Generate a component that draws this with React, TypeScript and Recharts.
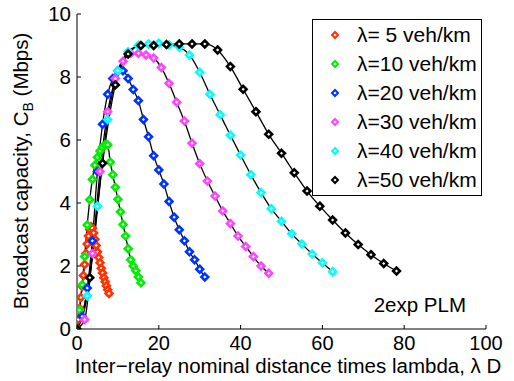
import { ComposedChart, Line, Scatter, XAxis, YAxis } from "recharts";

// relay spacing D (km); the x axis is lambda * D
const distanceKm = [
  0, 0.0625, 0.125, 0.1875, 0.25, 0.3125, 0.375, 0.4375, 0.5, 0.5625, 0.625,
  0.6875, 0.75, 0.8125, 0.875, 0.9375, 1.0, 1.0625, 1.125, 1.1875, 1.25,
  1.3125, 1.375, 1.4375, 1.5, 1.5625,
];

const densities = [5, 10, 20, 30, 40, 50];
const legendLabels = [
  "λ= 5 veh/km",
  "λ=10 veh/km",
  "λ=20 veh/km",
  "λ=30 veh/km",
  "λ=40 veh/km",
  "λ=50 veh/km",
];
const colors = ["#ff3300", "#00ee00", "#0033ff", "#ff44ff", "#00ffff", "#000000"];

// broadcast capacity C_B (Mbps)
const cap5 = [
  0, 0.3, 0.65, 1.0, 1.35, 1.7, 2.05, 2.4, 2.7, 2.95, 3.15, 3.25, 3.2, 3.05,
  2.85, 2.65, 2.45, 2.27, 2.1, 1.93, 1.78, 1.63, 1.5, 1.37, 1.25, 1.13,
];
const cap10 = [
  0, 0.6, 1.4, 2.3, 3.3, 4.1, 4.75, 5.2, 5.45, 5.65, 5.78, 5.85, 5.85, 5.3,
  4.9, 4.5, 4.12, 3.72, 3.32, 2.95, 2.55, 2.2, 2.0, 1.85, 1.65, 1.47,
];
const cap20 = [
  0, 0.4, 1.3, 2.8, 5.0, 6.5, 7.45, 7.95, 8.2, 8.2, 7.95, 7.6, 7.25, 6.65,
  6.1, 5.5, 5.05, 4.6, 4.05, 3.55, 3.15, 2.8, 2.45, 2.2, 1.9, 1.65,
];
const cap30 = [
  0, 0.3, 2.4, 5.0, 6.9, 7.95, 8.5, 8.75, 8.75, 8.7, 8.6, 8.3, 7.8, 7.2, 6.6,
  5.9, 5.25, 4.7, 4.22, 3.75, 3.35, 2.95, 2.62, 2.3, 2.0, 1.77,
];
const cap40 = [
  0, 1.05, 3.9, 6.65, 8.2, 8.8, 9.0, 9.05, 9.07, 9.02, 8.95, 8.7, 8.15, 7.45,
  6.8, 6.15, 5.52, 4.9, 4.33, 3.82, 3.42, 3.02, 2.7, 2.38, 2.1, 1.82,
];
const cap50 = [
  0, 1.63, 5.26, 7.75, 8.73, 9.0, 9.0, 9.03, 9.05, 9.05, 9.05, 8.86, 8.33,
  7.61, 6.9, 6.18, 5.58, 4.96, 4.38, 3.9, 3.46, 3.05, 2.68, 2.36, 2.08, 1.84,
];
const capacities = [cap5, cap10, cap20, cap30, cap40, cap50];

const xTicks = [0, 20, 40, 60, 80, 100];
const yTicks = [0, 2, 4, 6, 8, 10];

const series = densities.map((lam, i) => ({
  name: legendLabels[i],
  color: colors[i],
  data: distanceKm.map((d, j) => ({ x: lam * d, y: capacities[i][j] })),
}));

const FONT = "'Liberation Sans', Arial, Helvetica, sans-serif";
const TICK = 4;

const diamond = (color: string) => (props: any) => {
  const { cx, cy } = props;
  const r = 3.4;
  return (
    <path
      d={`M${cx},${cy - r}L${cx + r},${cy}L${cx},${cy + r}L${cx - r},${cy}Z`}
      fill="#ffffff"
      stroke={color}
      strokeWidth={2.6}
    />
  );
};

const BottomTick = (props: any) => {
  const { x, y, payload } = props;
  return (
    <g>
      <line x1={x} y1={y} x2={x} y2={y - TICK} stroke="#000" />
      <text x={x} y={y + 21} textAnchor="middle" fontSize={20} fontFamily={FONT} fill="#000">
        {payload.value}
      </text>
    </g>
  );
};

const LeftTick = (props: any) => {
  const { x, y, payload } = props;
  return (
    <g>
      <line x1={x} y1={y} x2={x + TICK} y2={y} stroke="#000" />
      <text x={x - 6} y={y} dy="0.36em" textAnchor="end" fontSize={20.5} fontFamily={FONT} fill="#000">
        {payload.value}
      </text>
    </g>
  );
};

const TopTick = (props: any) => {
  const { x, y } = props;
  return <line x1={x} y1={y} x2={x} y2={y + TICK} stroke="#000" />;
};

const RightTick = (props: any) => {
  const { x, y } = props;
  return <line x1={x} y1={y} x2={x - TICK} y2={y} stroke="#000" />;
};

export default function App() {
  return (
    <div
      style={{
        position: "absolute",
        left: 0,
        top: 0,
        width: 514,
        height: 381,
        background: "#fff",
        fontFamily: FONT,
      }}
    >
      <ComposedChart width={514} height={381} margin={{ top: 14, right: 28, bottom: 0, left: 0 }}>
        <XAxis
          dataKey="x"
          type="number"
          domain={[0, 100]}
          ticks={xTicks}
          height={52}
          tickSize={0}
          tickMargin={0}
          tickLine={false}
          tick={<BottomTick />}
          axisLine={{ stroke: "#000" }}
          allowDataOverflow
        />
        <XAxis
          xAxisId="top"
          orientation="top"
          type="number"
          domain={[0, 100]}
          ticks={xTicks}
          height={0}
          tickSize={0}
          tickMargin={0}
          tickLine={false}
          tick={<TopTick />}
          axisLine={{ stroke: "#000" }}
          allowDataOverflow
        />
        <YAxis
          type="number"
          domain={[0, 10]}
          ticks={yTicks}
          width={77}
          tickSize={0}
          tickMargin={0}
          tickLine={false}
          tick={<LeftTick />}
          axisLine={{ stroke: "#000" }}
          allowDataOverflow
        />
        <YAxis
          yAxisId="right"
          orientation="right"
          type="number"
          domain={[0, 10]}
          ticks={yTicks}
          width={0}
          tickSize={0}
          tickMargin={0}
          tickLine={false}
          tick={<RightTick />}
          axisLine={{ stroke: "#000" }}
          allowDataOverflow
        />
        {series.map((s) => (
          <Scatter
            key={"sc" + s.name}
            data={s.data}
            dataKey="y"
            shape={diamond(s.color)}
            isAnimationActive={false}
          />
        ))}
        {series.map((s) => (
          <Line
            key={"ln" + s.name}
            data={s.data}
            dataKey="y"
            type="monotone"
            stroke="#000"
            strokeWidth={1.3}
            dot={false}
            activeDot={false}
            isAnimationActive={false}
          />
        ))}
      </ComposedChart>

      <svg
        width={514}
        height={381}
        style={{ position: "absolute", left: 0, top: 0, pointerEvents: "none" }}
      >
        <text x={288} y={373} textAnchor="middle" fontSize={20.5} fontFamily={FONT} fill="#000">
          Inter−relay nominal distance times lambda, λ D
        </text>
        <text
          transform="translate(28,171) rotate(-90)"
          textAnchor="middle"
          fontSize={20.5}
          fontFamily={FONT}
          fill="#000"
        >
          Broadcast capacity, C
          <tspan fontSize={14} dy={5}>B</tspan>
          <tspan dy={-5}> (Mbps)</tspan>
        </text>
        <text x={466} y={312} textAnchor="end" fontSize={20.5} fontFamily={FONT} fill="#000">
          2exp PLM
        </text>
      </svg>

      <div
        style={{
          position: "absolute",
          left: 312,
          top: 19,
          width: 170,
          height: 177,
          border: "1px solid #000",
          background: "#fff",
          boxSizing: "border-box",
        }}
      >
        {series.map((s, i) => (
          <div
            key={s.name}
            style={{
              position: "absolute",
              left: 0,
              top: 15 + i * 29 - 12,
              height: 24,
              width: 168,
              display: "flex",
              alignItems: "center",
            }}
          >
            <svg width={44} height={24} style={{ flex: "none" }}>
              <path
                d="M22,9L25,12L22,15L19,12Z"
                fill="#fff"
                stroke={s.color}
                strokeWidth={2}
              />
            </svg>
            <span style={{ fontSize: 21, whiteSpace: "pre", color: "#000", lineHeight: "24px" }}>
              {s.name}
            </span>
          </div>
        ))}
      </div>
    </div>
  );
}
